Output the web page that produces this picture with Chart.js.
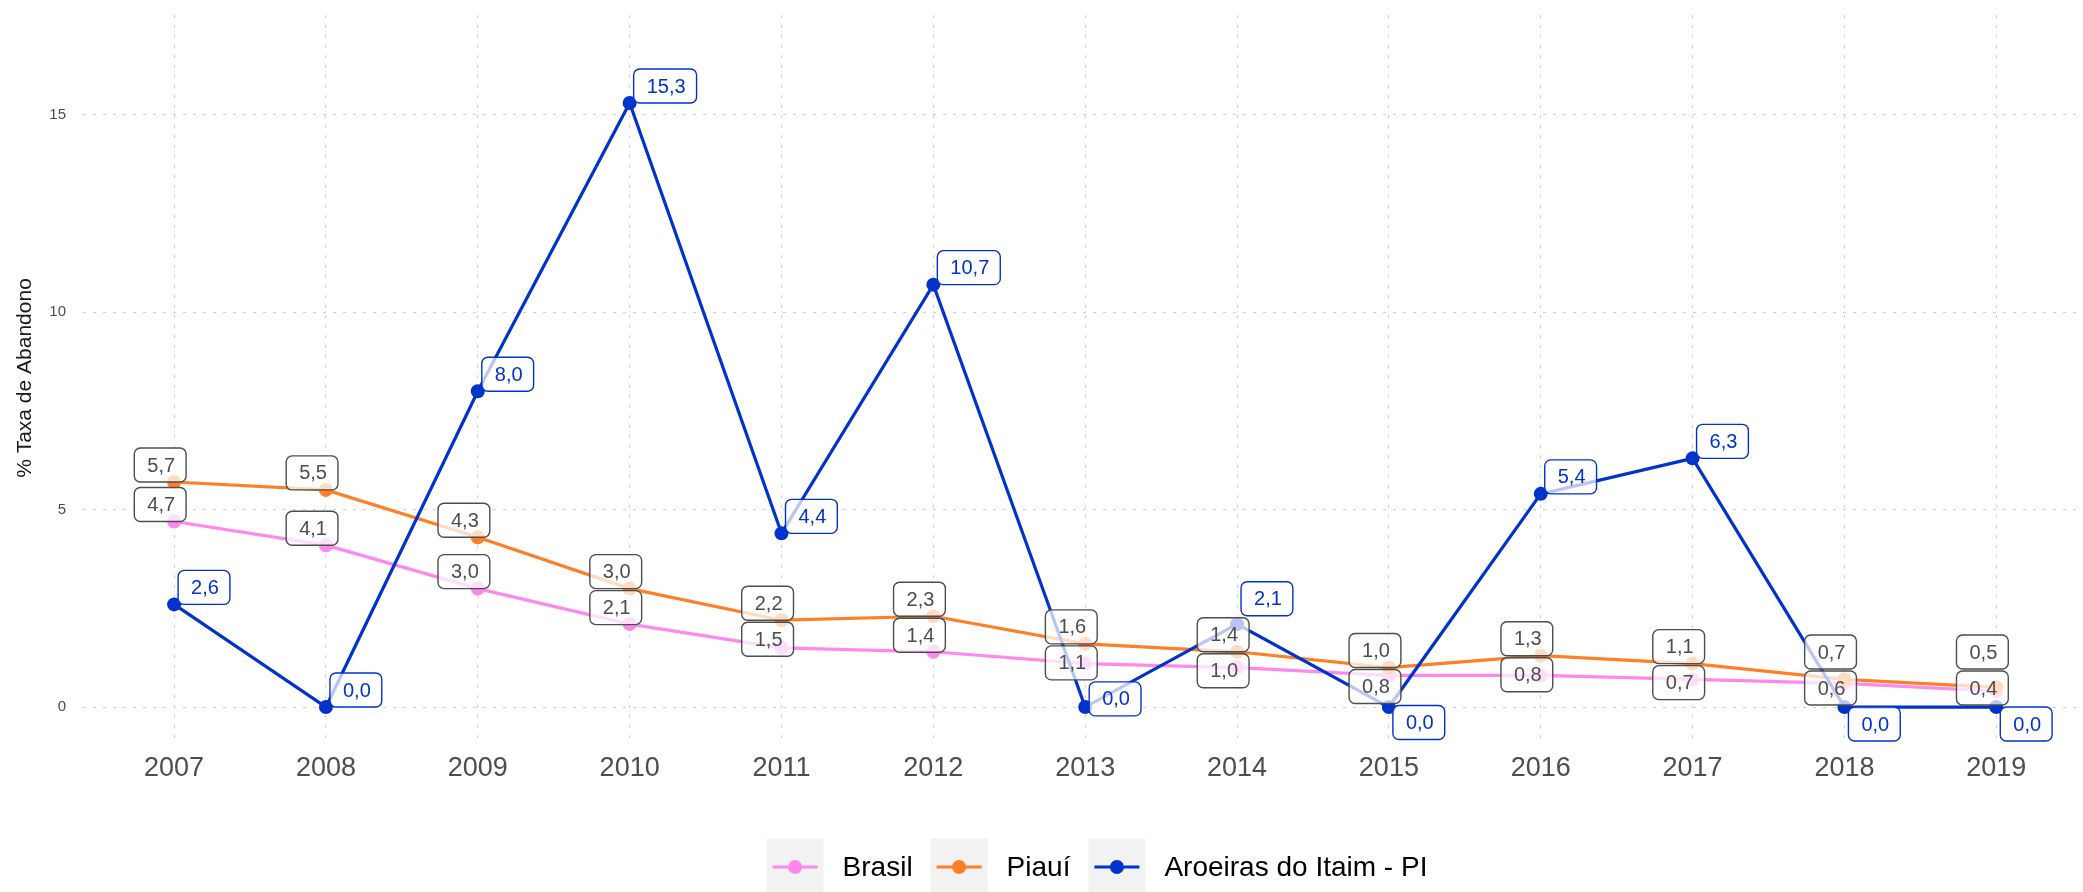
<!DOCTYPE html>
<html lang="pt-BR">
<head>
    <meta charset="UTF-8">
    <title>Taxa de Abandono</title>
    <script src="https://cdn.jsdelivr.net/npm/chart.js"></script>
    <style>
        html, body { margin: 0; padding: 0; background: #fff; }
        canvas { display: block; }
    </style>
</head>
<body>
    <canvas id="abandonoChart" width="2083" height="892"></canvas>

    <script>
        const years = [2007, 2008, 2009, 2010, 2011, 2012, 2013, 2014, 2015, 2016, 2017, 2018, 2019];
        const brasil = [4.7, 4.1, 3.0, 2.1, 1.5, 1.4, 1.1, 1.0, 0.8, 0.8, 0.7, 0.6, 0.4];
        const piaui = [5.7, 5.5, 4.3, 3.0, 2.2, 2.3, 1.6, 1.4, 1.0, 1.3, 1.1, 0.7, 0.5];
        const aroeiras = [2.6, 0.0, 8.0, 15.3, 4.4, 10.7, 0.0, 2.1, 0.0, 5.4, 6.3, 0.0, 0.0];
        const yTicks = [0, 5, 10, 15];

        const FONT = '"Liberation Sans", Arial, Helvetica, sans-serif';

        function fmt(v) {
            return v.toFixed(1).replace('.', ',');
        }

        function series(label, values, color, labelColor, labelSide, order) {
            return {
                label: label,
                data: years.map((y, i) => ({ x: y, y: values[i] })),
                borderColor: color,
                backgroundColor: color,
                pointBackgroundColor: color,
                pointBorderWidth: 0,
                pointRadius: 7,
                pointHoverRadius: 7,
                borderWidth: 3.2,
                tension: 0,
                order: order,
                labelColor: labelColor,
                labelSide: labelSide
            };
        }

        function roundBox(ctx, x, y, w, h, r) {
            ctx.beginPath();
            ctx.moveTo(x + r, y);
            ctx.arcTo(x + w, y, x + w, y + h, r);
            ctx.arcTo(x + w, y + h, x, y + h, r);
            ctx.arcTo(x, y + h, x, y, r);
            ctx.arcTo(x, y, x + w, y, r);
            ctx.closePath();
        }

        // keep the plot box fixed: no extra room for half tick labels
        function noEdgePadding(s) {
            s.paddingLeft = 0;
            s.paddingRight = 0;
            s.paddingTop = 0;
            s.paddingBottom = 0;
        }

        // value boxes, pushed apart inside each year so they don't overlap
        const valueLabels = {
            id: 'valueLabels',
            afterDatasetsDraw(chart) {
                const ctx = chart.ctx;
                const area = chart.chartArea;
                const h = 34, gap = 2, padX = 12;
                ctx.save();
                ctx.font = '20px ' + FONT;

                const overlaps = (a, b) =>
                    a.x < b.x + b.w && b.x < a.x + a.w &&
                    a.top < b.top + h + gap && b.top < a.top + h + gap;

                const all = [];
                years.forEach((year, j) => {
                    const left = [], right = [];
                    chart.data.datasets.forEach((ds, i) => {
                        const pt = chart.getDatasetMeta(i).data[j];
                        const text = fmt(ds.data[j].y);
                        const w = ctx.measureText(text).width + padX * 2;
                        const box = {
                            text: text, w: w, color: ds.labelColor,
                            x: ds.labelSide === 'right' ? pt.x + 4 : pt.x + 12 - w,
                            top: pt.y - h
                        };
                        (ds.labelSide === 'right' ? right : left).push(box);
                    });

                    left.sort((a, b) => a.top - b.top);
                    for (let k = 1; k < left.length; k++) {
                        const prev = left[k - 1];
                        if (left[k].top < prev.top + h + gap) left[k].top = prev.top + h + gap;
                    }

                    right.forEach(box => {
                        const start = box.top;
                        let down = start, up = start;
                        for (let n = 0; n < 6; n++) {
                            const hit = left.filter(o => overlaps({ x: box.x, w: box.w, top: down }, o));
                            if (!hit.length) break;
                            down = Math.max(...hit.map(o => o.top + h + gap));
                        }
                        for (let n = 0; n < 6; n++) {
                            const hit = left.filter(o => overlaps({ x: box.x, w: box.w, top: up }, o));
                            if (!hit.length) break;
                            up = Math.min(...hit.map(o => o.top - gap)) - h;
                        }
                        box.top = Math.abs(down - start) <= Math.abs(up - start) ? down : up;
                    });

                    const col = left.concat(right);
                    const excess = Math.max(...col.map(b => b.top + h)) - area.bottom;
                    if (excess > 0) col.forEach(b => { b.top -= excess; });
                    all.push(...col);
                });

                all.forEach(b => {
                    roundBox(ctx, b.x, b.top, b.w, h, 6);
                    ctx.fillStyle = 'rgba(255, 255, 255, 0.72)';
                    ctx.fill();
                    ctx.lineWidth = 1.4;
                    ctx.strokeStyle = b.color;
                    ctx.stroke();
                    ctx.fillStyle = b.color;
                    ctx.textAlign = 'center';
                    ctx.textBaseline = 'middle';
                    ctx.fillText(b.text, b.x + b.w / 2 + 1, b.top + h / 2 + 1);
                });
                ctx.restore();
            }
        };

        // legend with grey key squares holding a line and a dot
        const legendKeys = {
            id: 'legendKeys',
            afterDraw(chart) {
                const ctx = chart.ctx;
                const key = 57, keyGap = 19, itemGap = 18;
                const cy = 867, cx = 1097;
                ctx.save();
                ctx.font = '28px ' + FONT;
                const items = chart.data.datasets.map(ds => ({ ds: ds, w: ctx.measureText(ds.label).width }));
                const total = items.reduce((s, it) => s + key + keyGap + it.w, 0) + itemGap * (items.length - 1);
                let x = cx - total / 2;
                items.forEach(it => {
                    ctx.fillStyle = '#f2f2f2';
                    ctx.fillRect(x, cy - key / 2, key, key);
                    ctx.strokeStyle = it.ds.borderColor;
                    ctx.lineWidth = 3.2;
                    ctx.beginPath();
                    ctx.moveTo(x + 6, cy);
                    ctx.lineTo(x + key - 6, cy);
                    ctx.stroke();
                    ctx.fillStyle = it.ds.borderColor;
                    ctx.beginPath();
                    ctx.arc(x + key / 2, cy, 7, 0, Math.PI * 2);
                    ctx.fill();
                    ctx.fillStyle = '#000';
                    ctx.textAlign = 'left';
                    ctx.textBaseline = 'middle';
                    ctx.fillText(it.ds.label, x + key + keyGap, cy + 1);
                    x += key + keyGap + it.w + itemGap;
                });
                ctx.restore();
            }
        };

        const ctx = document.getElementById('abandonoChart').getContext('2d');
        new Chart(ctx, {
            type: 'line',
            data: {
                datasets: [
                    series('Brasil', brasil, '#ff88ee', '#4d4d4d', 'left', 2),
                    series('Piauí', piaui, '#ff7f27', '#4d4d4d', 'left', 1),
                    series('Aroeiras do Itaim - PI', aroeiras, '#0033cc', '#0033cc', 'right', 0)
                ]
            },
            options: {
                responsive: false,
                devicePixelRatio: 1,
                animation: false,
                layout: { padding: { top: 15, left: 0, right: 0, bottom: 0 } },
                plugins: {
                    legend: { display: false },
                    tooltip: { enabled: false }
                },
                scales: {
                    x: {
                        type: 'linear',
                        min: 2006.4,
                        max: 2019.525,
                        afterBuildTicks: s => { s.ticks = years.map(v => ({ value: v })); },
                        afterFit: s => { s.height = 151; noEdgePadding(s); },
                        ticks: {
                            callback: v => String(v),
                            font: { family: FONT, size: 27 },
                            color: '#4d4d4d',
                            padding: 11,
                            autoSkip: false,
                            maxRotation: 0
                        },
                        grid: { color: '#cfcfcf', lineWidth: 1, drawTicks: false },
                        border: { display: false, dash: [3, 7] }
                    },
                    y: {
                        type: 'linear',
                        min: -0.86,
                        max: 17.53,
                        afterBuildTicks: s => { s.ticks = yTicks.map(v => ({ value: v })); },
                        afterFit: s => { s.width = 83; noEdgePadding(s); },
                        ticks: {
                            callback: v => String(v),
                            font: { family: FONT, size: 15 },
                            color: '#4d4d4d',
                            padding: 17
                        },
                        grid: { color: '#cfcfcf', lineWidth: 1, drawTicks: false },
                        border: { display: false, dash: [3, 7] },
                        title: {
                            display: true,
                            text: '% Taxa de Abandono',
                            font: { family: FONT, size: 21 },
                            color: '#1a1a1a',
                            padding: { top: 13, bottom: 0 }
                        }
                    }
                }
            },
            plugins: [valueLabels, legendKeys]
        });
    </script>
</body>
</html>
